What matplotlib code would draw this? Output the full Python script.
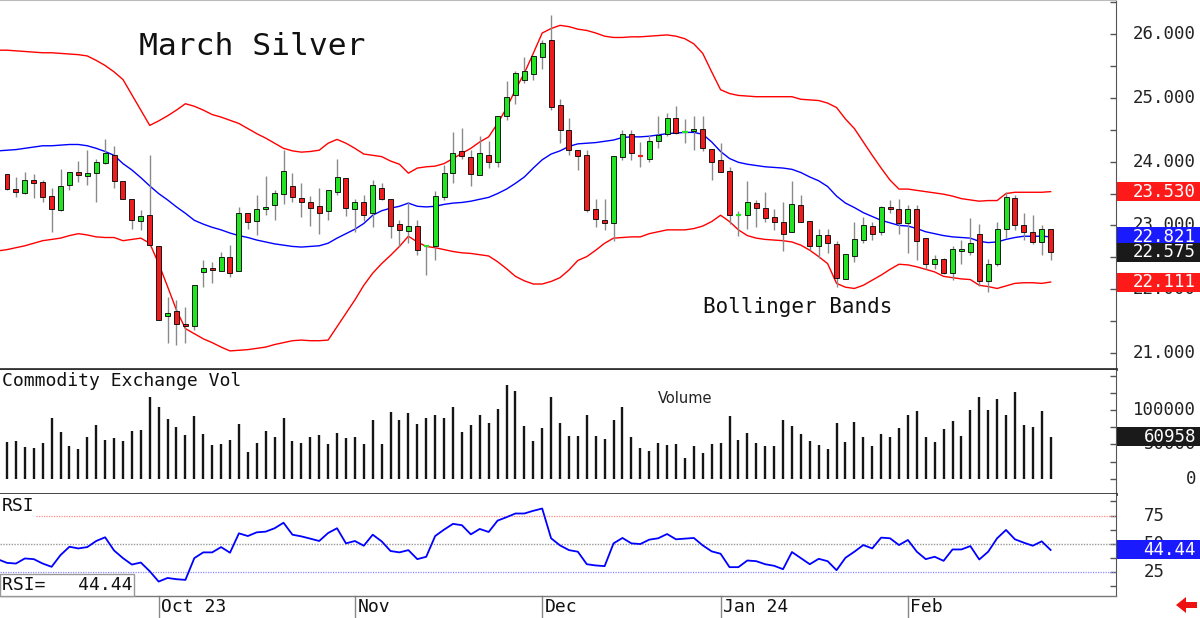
#!/usr/bin/env python3
"""March Silver daily chart: candles + Bollinger bands, volume, RSI."""
import matplotlib
matplotlib.use('Agg')
import matplotlib.pyplot as plt
import matplotlib.patches as patches
from matplotlib.transforms import blended_transform_factory
import numpy as np

# ---------------------------------------------------------------- data
# daily OHLC, one row per session (Sep 2023 .. Feb 2024)
opens = [23.81, 23.57, 23.51, 23.71, 23.68, 23.46, 23.24, 23.63, 23.84, 23.78,
         23.82, 23.98, 24.10, 23.70, 23.41, 23.07, 23.16, 22.68, 21.58, 21.65,
         21.45, 21.42, 22.27, 22.33, 22.28, 22.50, 22.29, 23.19, 23.07, 23.26,
         23.32, 23.49, 23.62, 23.43, 23.36, 23.30, 23.23, 23.52, 23.75, 23.26,
         23.36, 23.19, 23.58, 23.41, 23.02, 22.91, 22.99, 22.66, 22.68, 23.45,
         23.83, 24.16, 24.08, 23.79, 24.10, 23.99, 24.72, 25.04, 25.28, 25.38,
         25.65, 25.91, 24.89, 24.50, 24.19, 24.10, 23.26, 23.08, 23.04, 24.08,
         24.43, 24.10, 24.04, 24.32, 24.43, 24.68, 24.45, 24.48, 24.51, 24.20,
         24.02, 23.85, 23.155, 23.16, 23.35, 23.28, 23.13, 23.06, 22.89, 23.32,
         23.07, 22.68, 22.85, 22.71, 22.16, 22.52, 22.77, 22.99, 22.89, 23.29,
         23.25, 23.03, 23.25, 22.81, 22.39, 22.47, 22.25, 22.60, 22.58, 22.86,
         22.13, 22.39, 22.95, 23.43, 23.00, 22.90, 22.74, 22.95]
highs = [23.81, 23.76, 23.84, 23.80, 23.71, 23.58, 23.88, 23.84, 24.01, 24.18,
         24.05, 24.35, 24.24, 23.70, 23.42, 23.24, 24.10, 22.68, 21.88, 21.83,
         21.72, 22.07, 22.45, 22.43, 22.58, 22.69, 23.29, 23.19, 23.48, 23.78,
         23.56, 24.19, 23.82, 23.67, 23.46, 23.58, 23.56, 24.04, 23.75, 23.42,
         23.48, 23.71, 23.67, 23.41, 23.08, 23.37, 23.08, 22.68, 23.54, 23.95,
         24.47, 24.53, 24.18, 24.40, 24.33, 24.71, 25.26, 25.42, 25.65, 25.66,
         25.91, 26.30, 24.99, 24.68, 24.19, 24.19, 23.41, 23.41, 24.09, 24.50,
         24.50, 24.31, 24.42, 24.71, 24.76, 24.87, 24.67, 24.71, 24.71, 24.20,
         24.30, 23.92, 23.23, 23.69, 23.40, 23.53, 23.25, 23.37, 23.69, 23.48,
         23.07, 22.94, 22.94, 22.76, 22.55, 23.05, 23.13, 23.06, 23.31, 23.40,
         23.41, 23.32, 23.32, 22.81, 22.53, 22.49, 22.67, 22.77, 23.11, 23.02,
         22.48, 23.06, 23.52, 23.48, 23.19, 23.16, 23.01, 22.95]
lows = [23.55, 23.45, 23.50, 23.43, 23.36, 22.89, 23.23, 23.56, 23.68, 23.64,
        23.37, 23.97, 23.59, 23.41, 22.95, 22.93, 22.67, 21.52, 21.16, 21.13,
        21.15, 21.36, 22.03, 22.09, 22.28, 22.19, 22.29, 22.95, 22.85, 23.16,
        23.08, 23.33, 23.37, 23.13, 22.99, 22.87, 23.08, 23.48, 23.15, 22.89,
        23.07, 22.98, 23.40, 22.81, 22.68, 22.73, 22.53, 22.22, 22.46, 23.40,
        23.66, 24.05, 23.62, 23.79, 23.90, 23.92, 24.65, 24.91, 25.23, 25.28,
        25.45, 24.81, 24.29, 24.10, 23.87, 23.21, 22.98, 22.93, 22.76, 24.03,
        24.02, 23.92, 24.00, 24.21, 24.40, 24.43, 24.30, 24.18, 24.16, 23.72,
        23.84, 23.02, 22.84, 22.94, 22.98, 23.05, 22.93, 22.60, 22.89, 23.05,
        22.62, 22.49, 22.56, 22.03, 22.16, 22.43, 22.73, 22.77, 22.85, 23.19,
        22.86, 22.56, 22.46, 22.31, 22.31, 22.24, 22.15, 22.39, 22.54, 22.05,
        21.95, 22.37, 22.80, 22.93, 22.77, 22.71, 22.53, 22.46]
closes = [23.57, 23.53, 23.71, 23.67, 23.45, 23.25, 23.62, 23.84, 23.79, 23.83,
          23.99, 24.14, 23.70, 23.42, 23.08, 23.15, 22.69, 21.52, 21.63, 21.46,
          21.42, 22.07, 22.33, 22.30, 22.50, 22.26, 23.19, 23.06, 23.25, 23.29,
          23.51, 23.85, 23.45, 23.37, 23.28, 23.19, 23.56, 23.76, 23.27, 23.36,
          23.16, 23.63, 23.42, 22.99, 22.93, 22.99, 22.62, 22.67, 23.46, 23.82,
          24.13, 24.09, 23.80, 24.13, 24.00, 24.71, 25.02, 25.39, 25.43, 25.66,
          25.87, 24.86, 24.49, 24.18, 24.09, 23.24, 23.10, 23.03, 24.09, 24.43,
          24.13, 24.09, 24.32, 24.42, 24.68, 24.45, 24.46, 24.51, 24.21, 23.99,
          23.84, 23.16, 23.16, 23.36, 23.28, 23.12, 23.05, 22.86, 23.34, 23.05,
          22.68, 22.85, 22.72, 22.17, 22.55, 22.78, 23.01, 22.86, 23.29, 23.25,
          23.03, 23.25, 22.76, 22.40, 22.47, 22.26, 22.63, 22.63, 22.72, 22.13,
          22.39, 22.94, 23.44, 23.01, 22.90, 22.74, 22.94, 22.575]

volume = [53700, 54600, 45900, 44900, 52200, 88300, 68300, 48300, 43400, 61500,
          78000, 56600, 59000, 55100, 69300, 70700, 119000, 105400, 87300, 75600,
          63900, 91200, 65400, 49800, 51200, 56600, 80500, 39000, 52200, 69800,
          61500, 88300, 55100, 52700, 60500, 63900, 50700, 66300, 59500, 61500,
          50700, 85400, 50700, 97100, 85400, 96100, 79500, 88800, 93700, 88800,
          104400, 68800, 78500, 92700, 81000, 102000, 137100, 128300, 77100, 55600,
          74600, 119500, 82000, 62900, 62000, 92700, 62000, 58000, 86300, 104400,
          60500, 44900, 40500, 52200, 49800, 50700, 29800, 48300, 38000, 50700,
          52200, 91200, 57100, 66300, 52200, 47300, 47300, 86300, 77100, 65400,
          55600, 49800, 43900, 81500, 53700, 82900, 61500, 48300, 65400, 60500,
          73700, 92700, 98500, 61500, 53700, 72200, 83900, 62900, 100500, 119500,
          100500, 116100, 92700, 126800, 78500, 75600, 98500, 60958]

# indicator lines start one session earlier (index -1), cut by the left edge
bb_upper = [25.75,
            25.75, 25.74, 25.73, 25.72, 25.71, 25.71, 25.70, 25.69, 25.68, 25.66,
            25.59, 25.51, 25.41, 25.29, 25.05, 24.81, 24.57, 24.64, 24.72, 24.81,
            24.91, 24.87, 24.81, 24.74, 24.70, 24.65, 24.60, 24.52, 24.44, 24.37,
            24.29, 24.21, 24.17, 24.15, 24.16, 24.18, 24.29, 24.35, 24.29, 24.21,
            24.12, 24.10, 24.08, 24.01, 23.96, 23.82, 23.90, 23.92, 23.93, 23.97,
            24.05, 24.13, 24.21, 24.31, 24.39, 24.60, 24.84, 25.13, 25.39, 25.70,
            26.02, 26.09, 26.14, 26.12, 26.08, 26.06, 26.02, 25.97, 25.95, 25.95,
            25.96, 25.96, 25.97, 25.98, 25.99, 25.97, 25.93, 25.85, 25.70, 25.41,
            25.13, 25.07, 25.04, 25.03, 25.02, 25.02, 25.02, 25.02, 25.02, 24.98,
            24.97, 24.96, 24.92, 24.85, 24.67, 24.52, 24.31, 24.10, 23.90, 23.71,
            23.57, 23.57, 23.55, 23.53, 23.51, 23.49, 23.46, 23.42, 23.40, 23.38,
            23.39, 23.39, 23.50, 23.52, 23.52, 23.52, 23.52, 23.530]
bb_middle = [24.17,
             24.18, 24.19, 24.21, 24.23, 24.25, 24.25, 24.26, 24.27, 24.27, 24.25,
             24.21, 24.16, 24.10, 23.97, 23.87, 23.75, 23.62, 23.50, 23.40, 23.29,
             23.19, 23.08, 23.02, 22.97, 22.93, 22.88, 22.84, 22.81, 22.77, 22.74,
             22.71, 22.69, 22.67, 22.66, 22.67, 22.68, 22.72, 22.80, 22.87, 22.94,
             23.03, 23.16, 23.23, 23.27, 23.30, 23.35, 23.30, 23.29, 23.30, 23.33,
             23.35, 23.36, 23.38, 23.41, 23.44, 23.50, 23.57, 23.66, 23.76, 23.90,
             24.03, 24.12, 24.17, 24.24, 24.28, 24.29, 24.30, 24.32, 24.34, 24.38,
             24.39, 24.39, 24.40, 24.42, 24.44, 24.45, 24.46, 24.46, 24.43, 24.31,
             24.16, 24.05, 23.99, 23.96, 23.94, 23.92, 23.91, 23.90, 23.88, 23.83,
             23.76, 23.70, 23.61, 23.46, 23.35, 23.28, 23.20, 23.14, 23.08, 23.04,
             23.00, 22.99, 22.95, 22.90, 22.87, 22.84, 22.82, 22.81, 22.80, 22.75,
             22.73, 22.74, 22.78, 22.81, 22.83, 22.83, 22.83, 22.821]
bb_lower = [22.60,
            22.62, 22.65, 22.68, 22.72, 22.76, 22.78, 22.80, 22.84, 22.87, 22.85,
            22.82, 22.81, 22.81, 22.76, 22.78, 22.80, 22.72, 22.40, 22.04, 21.67,
            21.38, 21.30, 21.22, 21.16, 21.09, 21.03, 21.04, 21.05, 21.07, 21.09,
            21.13, 21.16, 21.19, 21.20, 21.19, 21.19, 21.20, 21.41, 21.62, 21.83,
            22.06, 22.25, 22.40, 22.53, 22.67, 22.83, 22.74, 22.67, 22.65, 22.62,
            22.59, 22.57, 22.56, 22.54, 22.52, 22.43, 22.32, 22.20, 22.13, 22.08,
            22.08, 22.12, 22.18, 22.30, 22.45, 22.51, 22.61, 22.72, 22.80, 22.81,
            22.82, 22.82, 22.87, 22.90, 22.93, 22.93, 22.93, 22.95, 22.99, 23.06,
            23.16, 23.06, 22.93, 22.84, 22.80, 22.78, 22.77, 22.76, 22.74, 22.69,
            22.61, 22.51, 22.40, 22.09, 22.03, 22.01, 22.06, 22.14, 22.22, 22.31,
            22.39, 22.38, 22.35, 22.31, 22.27, 22.20, 22.18, 22.16, 22.15, 22.06,
            22.04, 22.01, 22.05, 22.09, 22.10, 22.10, 22.09, 22.111]
rsi = [36.1,
       33.0, 32.4, 36.9, 36.3, 32.4, 29.5, 39.9, 47.3, 45.8, 47.0,
       52.4, 55.7, 44.0, 37.2, 31.5, 33.3, 25.6, 16.4, 19.6, 18.5,
       17.9, 37.2, 42.3, 42.3, 47.0, 42.0, 59.2, 56.8, 60.1, 60.7,
       63.7, 68.6, 58.0, 56.5, 54.5, 52.4, 59.5, 63.7, 50.3, 52.4,
       48.2, 58.0, 52.1, 43.5, 42.3, 44.3, 36.3, 38.4, 56.8, 62.5,
       67.6, 66.4, 58.3, 63.1, 60.4, 70.5, 73.5, 76.8, 76.8, 79.2,
       81.2, 54.8, 48.5, 44.3, 42.9, 31.8, 30.7, 30.1, 50.3, 55.1,
       50.3, 49.7, 53.6, 54.8, 58.6, 53.9, 54.5, 55.1, 48.5, 43.2,
       41.1, 29.2, 29.2, 35.1, 34.5, 31.8, 30.4, 27.4, 42.6, 37.2,
       31.8, 36.6, 34.5, 26.5, 37.5, 42.9, 48.8, 45.8, 55.4, 54.8,
       48.8, 53.3, 42.9, 36.3, 38.4, 34.8, 44.9, 44.9, 47.9, 36.0,
       42.9, 54.8, 62.2, 53.9, 50.9, 48.2, 52.1, 44.44]

month_idx = [17, 39, 60, 80, 101]
month_labels = ['Oct 23', 'Nov', 'Dec', 'Jan 24', 'Feb']

price_ticks = [21, 22, 23, 24, 25, 26]
volume_ticks = [0, 50000, 100000]
rsi_ticks = [25, 50, 75]

# ---------------------------------------------------------------- layout
W, H = 1200, 618
MONO = 'DejaVu Sans Mono'
GREEN, RED = '#22e422', '#ee1c1c'

fig = plt.figure(figsize=(W / 100, H / 100), dpi=100)


def panel(top, bottom):
    """axes spanning pixel rows top..bottom, plot width 1116 px"""
    return fig.add_axes([0, 1 - bottom / H, 1116 / W, (bottom - top) / H])


ax_p = panel(0, 369)
ax_v = panel(370, 494)
ax_r = panel(494, 596)

n = len(closes)
idx = np.arange(n)
line_idx = np.arange(-1, n)

for ax in (ax_p, ax_v, ax_r):
    ax.set_xlim(-0.785, 124.33)
    ax.set_xticks([])
    ax.spines['left'].set_visible(False)
    ax.spines['top'].set_visible(False)
    ax.spines['right'].set_color('#555')
    ax.spines['right'].set_linestyle((0, (1.5, 1)))
    ax.spines['bottom'].set_color('#333')
    ax.spines['bottom'].set_linewidth(2)
    ax.yaxis.tick_right()
    ax.tick_params(axis='y', direction='in', length=4, width=1, color='#555',
                   labelright=False, labelleft=False)
ax_r.spines['bottom'].set_linewidth(1)
ax_r.spines['bottom'].set_color('#777')
ax_p.spines['top'].set_visible(True)
ax_p.spines['top'].set_color('#bbb')

ax_p.set_ylim(20.746, 26.538)
ax_v.set_ylim(-22370, 158900)
ax_r.set_ylim(3.6, 94.1)
ax_p.set_yticks(np.arange(21, 26.51, 0.5))
ax_v.set_yticks(np.arange(0, 150001, 25000))
ax_r.set_yticks(np.arange(12.5, 90, 12.5))

# ---------------------------------------------------------------- price
ax_p.plot(line_idx, bb_upper, color='#ff0000', lw=1.0, zorder=1)
ax_p.plot(line_idx, bb_lower, color='#ff0000', lw=1.0, zorder=1)
ax_p.plot(line_idx, bb_middle, color='#0000ff', lw=1.0, zorder=1)

for i in idx:
    o, h, l, c = opens[i], highs[i], lows[i], closes[i]
    col = GREEN if c >= o else RED
    ax_p.vlines(i, l, h, color='#8a8a8a', lw=1.0, zorder=2)
    if abs(c - o) < 0.015:
        ax_p.hlines(c, i - 0.3, i + 0.3, color=col, lw=1.6, zorder=3)
    else:
        ax_p.add_patch(patches.Rectangle((i - 0.28, min(o, c)), 0.56, abs(c - o),
                                         facecolor=col, edgecolor='black',
                                         lw=0.6, zorder=3))

ax_p.text(0.1245, 0.851, 'March Silver', transform=ax_p.transAxes, family=MONO,
          fontsize=22.6, va='baseline', ha='left', color='#111')
ax_p.text(0.630, 0.1518, 'Bollinger Bands', transform=ax_p.transAxes, family=MONO,
          fontsize=15, va='baseline', ha='left', color='#111')

# ---------------------------------------------------------------- volume
ax_v.vlines(idx, 0, volume, color='#151515', lw=1.7)
ax_v.text(0.0015, 0.911, 'Commodity Exchange Vol', transform=ax_v.transAxes,
          family=MONO, fontsize=13, va='center', ha='left', color='#111')
ax_v.text(0.6138, 0.774, 'Volume', transform=ax_v.transAxes, fontsize=10.5,
          va='center', ha='center', color='#222')

# ---------------------------------------------------------------- RSI
ax_r.axhline(75, xmin=36 / 1116, color='#ff8c8c', lw=0.9, ls=(0, (1, 1)))
ax_r.axhline(50, color='#9a9a9a', lw=1.0, ls=(0, (1, 1)))
ax_r.axhline(25, color='#8c8cff', lw=0.9, ls=(0, (1, 1)))
ax_r.plot(line_idx, rsi, color='#0000ff', lw=1.3, zorder=3)
ax_r.text(0.0015, 0.887, 'RSI', transform=ax_r.transAxes, family=MONO,
          fontsize=13, va='center', ha='left', color='#111')
ax_r.add_patch(patches.Rectangle((0, 0), 134 / 1116, 22 / 102, transform=ax_r.transAxes,
                                 facecolor='white', edgecolor='#999', lw=1,
                                 zorder=4, clip_on=False))
ax_r.text(0.0015, 0.108, f'RSI={rsi[-1]:8.2f}', transform=ax_r.transAxes,
          family=MONO, fontsize=13, va='center', ha='left', color='#111', zorder=5)

# month ticks and labels under the RSI panel
date_trans = blended_transform_factory(ax_r.transData, ax_r.transAxes)
for m, lab in zip(month_idx, month_labels):
    ax_r.plot([m, m], [0, -0.216], transform=date_trans, color='#888', lw=1,
              clip_on=False)
    ax_r.text(m + 0.27, -0.108, lab, transform=date_trans, family=MONO,
              fontsize=13, va='center', ha='left', color='#111')


# ---------------------------------------------------------------- right scale
def right_label(ax, y, text, x_px=1196):
    tr = blended_transform_factory(fig.transFigure, ax.transData)
    ax.text(x_px / W, y, text, transform=tr, family=MONO, fontsize=12.5,
            ha='right', va='center', color='#222', clip_on=False, zorder=3)


def value_tag(ax, y, text, bg):
    tr = blended_transform_factory(fig.transFigure, ax.transData)
    y0, y1 = ax.get_ylim()
    h = 19 * (y1 - y0) / ax.bbox.height
    ax.add_patch(patches.Rectangle((1117 / W, y - h / 2), 83 / W, h, transform=tr,
                                   facecolor=bg, edgecolor='none',
                                   clip_on=False, zorder=6))
    ax.text(1196 / W, y, text, transform=tr, family=MONO, fontsize=12.5,
            ha='right', va='center', color='white', clip_on=False, zorder=7)


for t in price_ticks:
    right_label(ax_p, t, f'{t:.3f}')
for t in volume_ticks:
    right_label(ax_v, t, f'{t}')
for t in rsi_ticks:
    right_label(ax_r, t, f'{t}', x_px=1165)

value_tag(ax_p, bb_upper[-1], f'{bb_upper[-1]:.3f}', '#ff1a1a')
value_tag(ax_p, bb_lower[-1], f'{bb_lower[-1]:.3f}', '#ff1a1a')
value_tag(ax_p, bb_middle[-1], f'{bb_middle[-1]:.3f}', '#1a1aff')
value_tag(ax_p, closes[-1], f'{closes[-1]:.3f}', '#1a1a1a')
value_tag(ax_v, volume[-1], f'{volume[-1]}', '#1a1a1a')
value_tag(ax_r, rsi[-1], f'{rsi[-1]:.2f}', '#1a1aff')

# little red "scroll" arrow in the bottom right corner
arrow_px = [(1176, 605), (1186, 597), (1186, 602), (1197, 602),
            (1197, 608), (1186, 608), (1186, 613)]
fig.add_artist(patches.Polygon([(x / W, 1 - y / H) for x, y in arrow_px],
                               closed=True, facecolor='#ee1111', edgecolor='none',
                               transform=fig.transFigure))

fig.savefig('out.png', dpi=100)
